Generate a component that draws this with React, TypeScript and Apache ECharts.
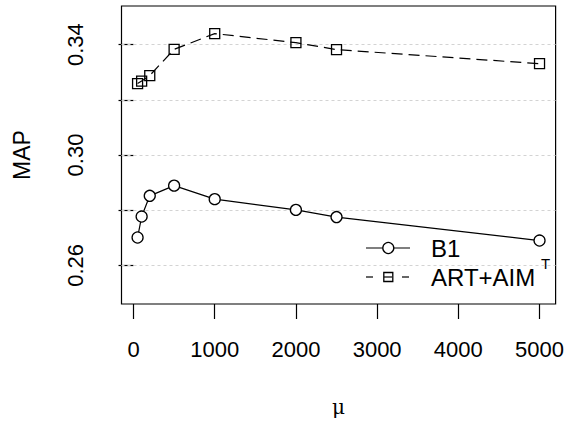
import React, { useEffect, useRef } from "react";
import * as echarts from "echarts";

const muValues = [50, 100, 200, 500, 1000, 2000, 2500, 5000];
const b1Values = [0.2701, 0.2777, 0.2852, 0.2889, 0.284, 0.2801, 0.2775, 0.269];
const artAimValues = [0.3259, 0.3268, 0.3288, 0.3383, 0.344, 0.3407, 0.3382, 0.3331];
const xTickValues = [0, 1000, 2000, 3000, 4000, 5000];
const yTickValues = [0.26, 0.28, 0.3, 0.32, 0.34];
const yLabelValues = [0.26, 0.3, 0.34];
const seriesNames = ["B1", "ART+AIM"];

const FONT = '"Liberation Sans", Arial, Helvetica, sans-serif';

export default function App() {
  const ref = useRef<HTMLDivElement>(null);
  useEffect(() => {
    if (!ref.current) return;
    const chart = echarts.init(ref.current, null, { renderer: "svg" });
    const option = {
      animation: false,
      backgroundColor: "#fff",
      grid: {
        left: 121.5,
        right: 10,
        top: 6,
        bottom: 118,
        show: true,
        borderColor: "#000",
        borderWidth: 1.2,
        backgroundColor: "transparent",
      },
      xAxis: {
        type: "value",
        min: -148,
        max: 5198,
        name: "μ",
        nameLocation: "middle",
        nameGap: 93,
        nameTextStyle: { fontFamily: '"DejaVu Serif", "Liberation Serif", serif', fontSize: 20, color: "#000" },
        axisLine: { show: false },
        axisTick: { show: true, customValues: xTickValues, length: 15, lineStyle: { color: "#000", width: 1.2 } },
        axisLabel: {
          customValues: xTickValues,
          fontSize: 22,
          fontFamily: FONT,
          color: "#000",
          margin: 34,
          formatter: (v: number) => String(Math.round(v)),
        },
        splitLine: { show: false },
      },
      yAxis: {
        type: "value",
        min: 0.246,
        max: 0.354,
        name: "MAP",
        nameLocation: "middle",
        nameRotate: 90,
        nameGap: 88,
        nameTextStyle: { fontFamily: FONT, fontSize: 23, color: "#000" },
        axisLine: { show: false },
        axisTick: { show: true, customValues: yTickValues, length: 15, lineStyle: { color: "#000", width: 1.2 } },
        axisLabel: {
          customValues: yLabelValues,
          rotate: 90,
          fontSize: 22,
          fontFamily: FONT,
          color: "#000",
          margin: 35,
          formatter: (v: number) => v.toFixed(2),
        },
        splitLine: { show: false },
      },
      series: [
        {
          name: seriesNames[0],
          type: "line",
          data: muValues.map((x, i) => [x, b1Values[i]]),
          symbol: "circle",
          symbolSize: 11,
          lineStyle: { color: "#000", width: 1.2 },
          itemStyle: { color: "#fff", borderColor: "#000", borderWidth: 1.3 },
          z: 3,
          markLine: {
            silent: true,
            symbol: ["none", "none"],
            label: { show: false },
            lineStyle: { type: [3, 3], color: "#d3d3d3", width: 1 },
            data: yTickValues.map((v) => ({ yAxis: v })),
            z: 1,
          },
        },
        {
          name: seriesNames[1],
          type: "line",
          data: muValues.map((x, i) => [x, artAimValues[i]]),
          symbol: "rect",
          symbolSize: 10,
          lineStyle: { color: "#000", width: 1.2, type: [11, 6] },
          itemStyle: { color: "rgba(0,0,0,0)", borderColor: "#000", borderWidth: 1.3 },
          z: 3,
        },
      ],
      graphic: [
        { type: "line", shape: { x1: 366, y1: 248, x2: 410, y2: 248 }, style: { stroke: "#000", lineWidth: 1.2 } },
        { type: "circle", shape: { cx: 388.3, cy: 248, r: 5.5 }, style: { fill: "#fff", stroke: "#000", lineWidth: 1.3 } },
        { type: "text", x: 431, y: 248, style: { text: seriesNames[0], fontSize: 24, fontFamily: FONT, fill: "#000", verticalAlign: "middle" } },
        { type: "line", shape: { x1: 366, y1: 277, x2: 373, y2: 277 }, style: { stroke: "#000", lineWidth: 1.2 } },
        { type: "line", shape: { x1: 384, y1: 277, x2: 392, y2: 277 }, style: { stroke: "#000", lineWidth: 1.2 } },
        { type: "line", shape: { x1: 402, y1: 277, x2: 409, y2: 277 }, style: { stroke: "#000", lineWidth: 1.2 } },
        { type: "rect", shape: { x: 383.8, y: 272.5, width: 9, height: 9 }, style: { fill: "none", stroke: "#000", lineWidth: 1.3 } },
        { type: "text", x: 431, y: 277, style: { text: seriesNames[1], fontSize: 24, fontFamily: FONT, fill: "#000", verticalAlign: "middle" } },
        { type: "text", x: 541, y: 263, style: { text: "T", fontSize: 15, fontFamily: FONT, fill: "#000", verticalAlign: "middle" } },
      ],
    };
    chart.setOption(option as any);
    return () => chart.dispose();
  }, []);
  return <div ref={ref} style={{ width: 567, height: 422, position: "absolute", left: 0, top: 0 }} />;
}
